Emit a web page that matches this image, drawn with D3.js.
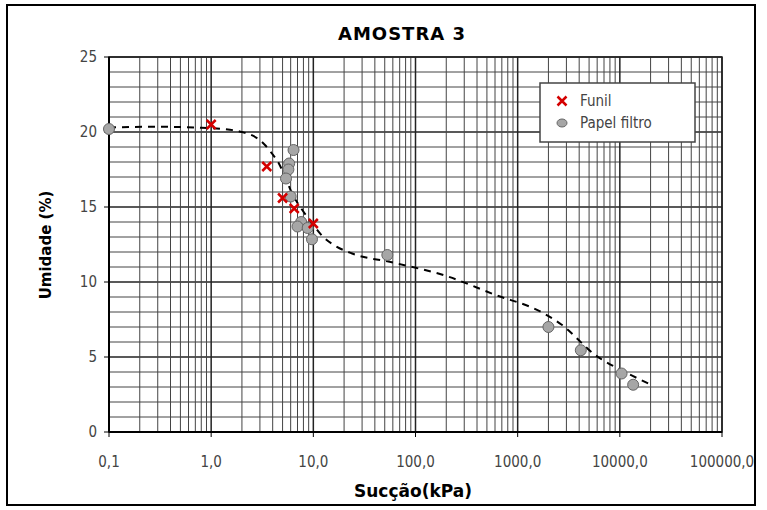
<!DOCTYPE html>
<html>
<head>
<meta charset="utf-8">
<script src="https://cdn.jsdelivr.net/npm/d3@7"></script>
<style>
  body { margin: 0; background: #fff; }
  svg { display: block; }
  .tick-label { font-family: "Liberation Sans Narrow", "DejaVu Sans Condensed", Arial, sans-serif; fill: #444; font-size: 15px; }
  .title { font-family: "DejaVu Sans", Arial, sans-serif; font-weight: bold; }
</style>
</head>
<body>
<svg id="chart" width="767" height="510"></svg>
<script>
/* global d3 */

// Funil measurements: [suction kPa, moisture %]
const funil = [
  [1.0, 20.5], [3.5, 17.7], [5.0, 15.6], [6.5, 14.9], [10.0, 13.9]
];

// Filter paper measurements
const papelFiltro = [
  [0.1, 20.2], [6.4, 18.8], [5.8, 17.9], [5.7, 17.5], [5.4, 16.9],
  [6.0, 15.7], [7.6, 14.0], [7.0, 13.7], [8.8, 13.6], [9.7, 12.85],
  [53, 11.8], [2000, 7.0], [4150, 5.45], [10400, 3.9], [13500, 3.15]
];

// Fitted retention curve (dashed)
const curve = [
  [0.1, 20.3], [0.3, 20.35], [0.7, 20.3], [1.3, 20.2], [2.0, 20.0],
  [2.8, 19.6], [3.4, 19.1], [3.9, 18.6], [4.6, 17.9], [5.3, 17.0],
  [6.2, 15.9], [7.8, 14.8], [10, 13.8], [12.5, 13.0], [16.5, 12.4],
  [24, 11.9], [60, 11.3], [200, 10.4], [600, 9.15], [1700, 8.0],
  [2700, 7.15], [5700, 5.15], [12000, 3.9], [21000, 3.1]
];

const xTicks = [0.1, 1, 10, 100, 1000, 10000, 100000];
const xTickLabels = ["0,1", "1,0", "10,0", "100,0", "1000,0", "10000,0", "100000,0"];
const yTicks = [0, 5, 10, 15, 20, 25];

const svg = d3.select("#chart");
const plotL = 109, plotR = 722, plotT = 57, plotB = 432;

const x = d3.scaleLog().domain([0.1, 100000]).range([plotL, plotR]);
const y = d3.scaleLinear().domain([0, 25]).range([plotB, plotT]);

// outer frame
svg.append("rect")
  .attr("x", 7).attr("y", 5)
  .attr("width", 748).attr("height", 500)
  .attr("fill", "#fff")
  .attr("stroke", "#000")
  .attr("stroke-width", 2);

// grid
const grid = svg.append("g");
grid.selectAll(".h")
  .data(d3.range(0, 26))
  .enter()
  .append("line")
  .attr("x1", plotL).attr("x2", plotR)
  .attr("y1", d => y(d)).attr("y2", d => y(d))
  .attr("stroke", d => d % 5 === 0 ? "#222" : "#444")
  .attr("stroke-width", d => d % 5 === 0 ? 1.5 : 1);

const vLines = [];
for (let e = -1; e <= 4; e++) {
  for (let k = 1; k <= 9; k++) vLines.push(k * Math.pow(10, e));
}
vLines.push(100000);
grid.selectAll(".v")
  .data(vLines)
  .enter()
  .append("line")
  .attr("x1", d => x(d)).attr("x2", d => x(d))
  .attr("y1", plotT).attr("y2", plotB)
  .attr("stroke", (d, i) => i % 9 === 0 ? "#222" : "#444")
  .attr("stroke-width", (d, i) => i % 9 === 0 ? 1.5 : 1);

// plot border
svg.append("rect")
  .attr("x", plotL).attr("y", plotT)
  .attr("width", plotR - plotL).attr("height", plotB - plotT)
  .attr("fill", "none")
  .attr("stroke", "#222")
  .attr("stroke-width", 1.5);
svg.append("line")
  .attr("x1", plotL).attr("x2", plotL).attr("y1", plotT).attr("y2", plotB)
  .attr("stroke", "#000").attr("stroke-width", 2);
svg.append("line")
  .attr("x1", plotL).attr("x2", plotR).attr("y1", plotB).attr("y2", plotB)
  .attr("stroke", "#000").attr("stroke-width", 2);

// y axis
svg.selectAll(".yt")
  .data(yTicks)
  .enter()
  .append("line")
  .attr("x1", plotL - 5).attr("x2", plotL)
  .attr("y1", d => y(d)).attr("y2", d => y(d))
  .attr("stroke", "#000");
svg.selectAll(".yl")
  .data(yTicks)
  .enter()
  .append("text")
  .classed("tick-label", true)
  .attr("x", plotL - 12)
  .attr("y", d => y(d) + 5)
  .attr("text-anchor", "end")
  .text(d => d);

// x axis
svg.selectAll(".xt")
  .data(xTicks)
  .enter()
  .append("line")
  .attr("x1", d => x(d)).attr("x2", d => x(d))
  .attr("y1", plotB).attr("y2", plotB + 5)
  .attr("stroke", "#000");
svg.selectAll(".xl")
  .data(xTicks)
  .enter()
  .append("text")
  .classed("tick-label", true)
  .attr("x", d => x(d))
  .attr("y", 467)
  .attr("text-anchor", "middle")
  .text((d, i) => xTickLabels[i]);

// titles
svg.append("text")
  .classed("title", true)
  .attr("x", 402).attr("y", 40)
  .attr("text-anchor", "middle")
  .attr("font-size", 18)
  .attr("letter-spacing", 1)
  .text("AMOSTRA 3");
svg.append("text")
  .classed("title", true)
  .attr("x", 413).attr("y", 497)
  .attr("text-anchor", "middle")
  .attr("font-size", 17)
  .text("Sucção(kPa)");
svg.append("text")
  .classed("title", true)
  .attr("transform", "translate(51,245) rotate(-90)")
  .attr("text-anchor", "middle")
  .attr("font-size", 15)
  .text("Umidade (%)");

// dashed curve
const line = d3.line()
  .x(d => x(d[0]))
  .y(d => y(d[1]))
  .curve(d3.curveMonotoneX);
svg.append("path")
  .datum(curve)
  .attr("d", line)
  .attr("fill", "none")
  .attr("stroke", "#000")
  .attr("stroke-width", 2)
  .attr("stroke-dasharray", "7,6");

// filter paper circles
svg.selectAll(".pf")
  .data(papelFiltro)
  .enter()
  .append("circle")
  .attr("cx", d => x(d[0]))
  .attr("cy", d => y(d[1]))
  .attr("r", 5.5)
  .attr("fill", "#a6a6a6")
  .attr("stroke", "#666")
  .attr("stroke-width", 1);

// funil crosses
const cross = "M-4.5,-4.5L4.5,4.5M-4.5,4.5L4.5,-4.5";
svg.selectAll(".fu")
  .data(funil)
  .enter()
  .append("path")
  .attr("transform", d => `translate(${x(d[0])},${y(d[1])})`)
  .attr("d", cross)
  .attr("stroke", "#d40000")
  .attr("stroke-width", 2.5);

// legend
const legend = svg.append("g");
legend.append("rect")
  .attr("x", 540).attr("y", 83)
  .attr("width", 155).attr("height", 59)
  .attr("fill", "#fff")
  .attr("stroke", "#444")
  .attr("stroke-width", 1.5);
legend.append("path")
  .attr("transform", "translate(562,101)")
  .attr("d", cross)
  .attr("stroke", "#d40000")
  .attr("stroke-width", 2.5);
legend.append("ellipse")
  .attr("cx", 562).attr("cy", 123)
  .attr("rx", 5).attr("ry", 4)
  .attr("fill", "#a6a6a6")
  .attr("stroke", "#666");
legend.append("text")
  .classed("tick-label", true)
  .attr("x", 580).attr("y", 106)
  .text("Funil");
legend.append("text")
  .classed("tick-label", true)
  .attr("x", 580).attr("y", 128)
  .text("Papel filtro");
</script>
</body>
</html>
